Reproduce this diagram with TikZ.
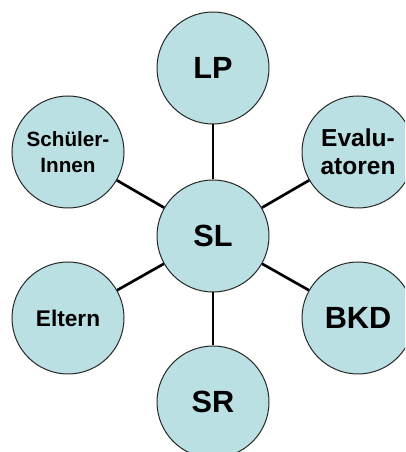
\documentclass[tikz,border=0pt]{standalone}
\usepackage{fontspec}
\setmainfont{Liberation Sans}
\usetikzlibrary{shapes,positioning,calc}

\definecolor{kreis}{HTML}{BBE0E3}
\tikzset{
  gruppe/.style={circle, draw=black!85, line width=0.75pt, fill=kreis,
    minimum size=84pt, inner sep=0pt, align=center},
  verbindung/.style={line width=2pt}
}

\begin{document}
\begin{tikzpicture}[x=0.75pt, y=0.75pt]
                % Rahmen
                \useasboundingbox (0,0) rectangle (405,452);
                \clip (0,0) rectangle (405,452);

                % Mitte
                \node[gruppe, font=\fontsize{23}{24}\bfseries\selectfont] (sl) at (213,216) {SL};

                % Aussen
                \node[gruppe, font=\fontsize{23}{24}\bfseries\selectfont] (lp) at (213,384) {LP};
                \node[gruppe, font=\fontsize{23}{24}\bfseries\selectfont] (sr) at (213,50) {SR};
                \node[gruppe, font=\fontsize{15.5}{19.5}\bfseries\selectfont] (schueler) at (68,300) {Schüler-\\Innen};
                \node[gruppe, font=\fontsize{18.4}{21}\bfseries\selectfont] (eval) at (358,300) {Evalu-\\atoren};
                \node[gruppe, font=\fontsize{17}{20}\bfseries\selectfont] (eltern) at (68,134) {Eltern};
                \node[gruppe, font=\fontsize{23}{24}\bfseries\selectfont] (bkd) at (358,134) {BKD};

                % Verbindungen
                \draw[verbindung] (sl) -- (lp);
                \draw[verbindung] (sl) -- (sr);
                \draw[verbindung] (sl) -- (schueler);
                \draw[verbindung] (sl) -- (eval);
                \draw[verbindung] (sl) -- (eltern);
                \draw[verbindung] (sl) -- (bkd);
            \end{tikzpicture}
\end{document}
